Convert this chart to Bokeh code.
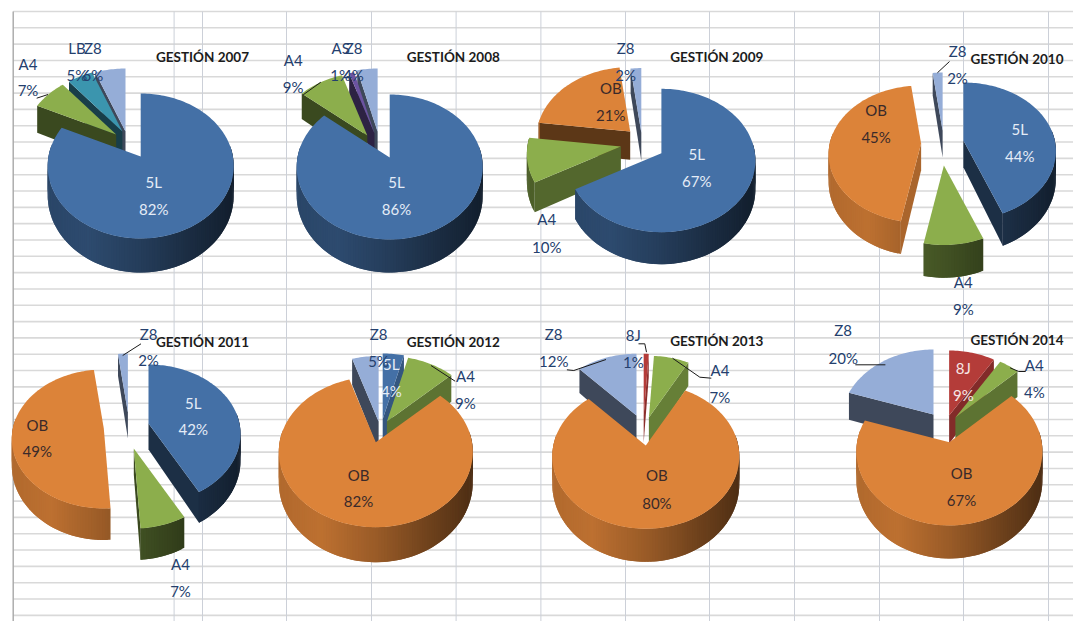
import math
from bokeh.plotting import figure
from bokeh.models import Range1d, ColumnDataSource
from bokeh.core.properties import value
from bokeh.embed import file_html
from bokeh.resources import INLINE

# ---- data ----
years = [2007, 2008, 2009, 2010, 2011, 2012, 2013, 2014]
names_2007 = ["5L", "A4", "LB", "Z8"]
values_2007 = [82, 7, 5, 6]
names_2008 = ["5L", "A4", "AS", "Z8"]
values_2008 = [86, 9, 1, 4]
names_2009 = ["5L", "A4", "OB", "Z8"]
values_2009 = [67, 10, 21, 2]
names_2010 = ["5L", "A4", "OB", "Z8"]
values_2010 = [44, 9, 45, 2]
names_2011 = ["5L", "A4", "OB", "Z8"]
values_2011 = [42, 7, 49, 2]
names_2012 = ["5L", "A4", "OB", "Z8"]
values_2012 = [4, 9, 82, 5]
names_2013 = ["8J", "A4", "OB", "Z8"]
values_2013 = [1, 7, 80, 12]
names_2014 = ["8J", "A4", "OB", "Z8"]
values_2014 = [9, 4, 67, 20]
all_names = dict(zip(years, [names_2007, names_2008, names_2009, names_2010, names_2011, names_2012, names_2013, names_2014]))
all_values = dict(zip(years, [values_2007, values_2008, values_2009, values_2010, values_2011, values_2012, values_2013, values_2014]))

# ---- styles ----
COL = {"5L": "#4470A6", "A4": "#8CAE4C", "OB": "#DC8339", "Z8": "#95ADD7",
       "LB": "#3B95AE", "AS": "#6C53A1", "8J": "#B43C39"}
SIDE = {"5L": 0.78, "A4": 0.68, "OB": 1.0, "Z8": 0.75, "LB": 0.7, "AS": 0.7, "8J": 0.7}
LBL = {"5L": "#E4ECF7", "8J": "#F6E6E6", "OB": "#3A2A2A"}
DARK_BLUE = "#24406E"

# ---- layout: half width, rise to back, drop to front, depth, slice apexes ----
GEOM = {
    2007: (93, 63, 82, 34, [(140.2, 156), (115.7, 134), (121.9, 131), (125, 131)]),
    2008: (93, 63, 82, 33, [(389.2, 157), (366.8, 135), (374, 133), (377.1, 131)]),
    2009: (94, 64.4, 79, 32, [(660.9, 152.7), (620.4, 146), (629.7, 131), (640.8, 132)]),
    2010: (92.5, 58, 79.5, 32.7, [(962.9, 140), (943.4, 165), (920.6, 143), (942.1, 130)]),
    2011: (92, 59, 80, 31.5, [(148, 423), (133.3, 448), (103.3, 428), (127.4, 412)]),
    2012: (97, 65.5, 85, 35, [(382.2, 418.5), (386.4, 421), (375.3, 441.7), (378.1, 421)]),
    2013: (93.5, 61.7, 83.3, 33, [(643.2, 415), (648.4, 417), (645.3, 445), (636, 415)]),
    2014: (93, 65, 83.3, 33, [(948.6, 415), (954.9, 417), (948.9, 441.7), (933, 414)]),
}
TITLE_POS = {2007: (202, 56.3), 2008: (452.8, 56.3), 2009: (716.3, 56.3), 2010: (1016.5, 58),
             2011: (202, 341.3), 2012: (452.8, 341.3), 2013: (716.3, 340.7), 2014: (1016.5, 339)}
LABEL_POS = {
    2007: [(153.2, 181.3, 208), (27.5, 63.7, 89.7), (76.4, 47, 74), (92.3, 47, 74)],
    2008: [(396, 181.3, 208), (292.7, 59.7, 86.3), (340.2, 47, 74), (353, 47, 74)],
    2009: [(696.2, 153.7, 180.7), (546.3, 218.7, 246.3), (610.3, 87.3, 114), (625.2, 47, 74)],
    2010: [(1019.3, 128, 155.3), (962.8, 281.3, 308), (875.6, 109.7, 136.3), (957, 50.3, 77.3)],
    2011: [(192.8, 402.3, 428.7), (180, 563.7, 590.7), (36.8, 424, 450.7), (148, 333, 359.7)],
    2012: [(390.8, 363.7, 390.7), (464.9, 375.7, 402.3), (358, 474, 500.7), (378, 333, 360.3)],
    2013: [(632.8, 334.7, 361.3), (719.4, 369.7, 396.3), (656.4, 474.7, 502.3), (553.2, 333, 360.3)],
    2014: [(962.8, 367.3, 394), (1033.8, 364, 391.3), (961, 472, 499.7), (842.7, 329.7, 357.3)],
}
LEADERS = [
    [(36.2, 97.7), (47.5, 94)], [(302.7, 94.3), (320.3, 81.7)], [(949, 61), (936.9, 72.3)],
    [(140.5, 343.3), (122.2, 355)], [(454.6, 380.7), (430.5, 365)],
    [(566.4, 369.3), (573.3, 370), (605.5, 359)], [(638, 343.3), (644.3, 343.3), (646, 351.7)],
    [(710.8, 377.7), (699.3, 376.7), (672, 357.7)], [(854.8, 364.3), (884.9, 364.3)],
    [(1025.2, 371), (1018.2, 371), (1009.6, 367.3)],
]
H_LINES = [11 + 16.32 * i for i in range(38)]
V_LINES = [173.6, 202, 286, 371, 455.6, 540.4, 625, 709, 794, 879, 963, 1048]


def shade(hex_col, f):
    r, g, b = (int(hex_col[i:i + 2], 16) for i in (1, 3, 5))
    return "#%02x%02x%02x" % (min(255, int(r * f)), min(255, int(g * f)), min(255, int(b * f)))


def side_factor(u):
    stops = [(-1, .80), (-.5, .86), (0, .70), (.5, .50), (1, .34)]
    for (a, fa), (b, fb) in zip(stops, stops[1:]):
        if u <= b:
            return fa + (fb - fa) * (u - a) / (b - a)
    return stops[-1][1]


xs, ys, fills = [], [], []


def add(px, py, c):
    xs.append(px)
    ys.append(py)
    fills.append(c)


def draw_year(year):
    half, rt, rb, depth, apexes = GEOM[year]
    ry = 2 / (1 / rt + 1 / rb)
    k = ry / rt - 1
    rx = half * math.sqrt(1 - k * k)

    def project(deg, ax, ay):
        t = math.radians(deg)
        u, v = math.sin(t), -math.cos(t)
        w = 1 - k * v
        d = depth * ((1 - k) / w) ** 1.2
        return ax + rx * u / w, ay + ry * v / w, d

    slices = []
    cum = 0.0
    total = sum(all_values[year])
    for name, val, (ax, ay) in zip(all_names[year], all_values[year], apexes):
        a0 = cum / total * 360
        cum += val
        a1 = cum / total * 360
        n = max(2, int((a1 - a0) / 1.5) + 1)
        angles = [a0 + (a1 - a0) * i / n for i in range(n + 1)]
        pts = [project(a, ax, ay) for a in angles]
        cy = (ay * 2 + sum(p[1] for p in pts) / len(pts)) / 3
        slices.append((cy, name, angles, pts, ax, ay, a0, a1))
    slices.sort(key=lambda s: s[0])

    for _, name, angles, pts, ax, ay, a0, a1 in slices:
        base = COL[name]
        a_d = depth * (1 - k) ** 1.2
        for deg, sign, p in ((a0, -1, pts[0]), (a1, 1, pts[-1])):
            nx = math.sin(math.radians(deg + sign * 90))
            nv = -math.cos(math.radians(deg + sign * 90))
            if nv < 0:
                continue
            f = 0.42 + 0.36 * max(0.0, nx)
            add([ax, p[0], p[0], ax], [ay, p[1], p[1] + p[2], ay + a_d], shade(base, f))
        last = len(pts) - 1
        for i in range(last):
            mid = math.radians((angles[i] + angles[i + 1]) / 2)
            if -math.cos(mid) < -0.15:
                continue
            (x0, y0, d0), (x1, y1, d1) = pts[i], pts[min(i + 2, last)]
            add([x0, x1, x1, x0], [y0, y1, y1 + d1, y0 + d0],
                shade(base, side_factor(math.sin(mid)) * SIDE[name]))
        add([ax] + [q[0] for q in pts], [ay] + [q[1] for q in pts], base)


for y in years:
    draw_year(y)

p = figure(width=1073, height=621, output_backend="svg", toolbar_location=None,
           x_range=Range1d(0, 1073), y_range=Range1d(621, 0), min_border=0)
p.axis.visible = False
p.grid.visible = False
p.outline_line_color = None
p.background_fill_color = "#FFFFFF"

p.segment(x0=[12.7] * len(H_LINES), x1=[1073] * len(H_LINES), y0=H_LINES, y1=H_LINES,
          line_color="#D9D9D9", line_width=1.6)
p.segment(x0=V_LINES, x1=V_LINES, y0=[11] * len(V_LINES), y1=[621] * len(V_LINES),
          line_color="#CCD0D8", line_width=1)
p.segment(x0=[12.7], x1=[12.7], y0=[11], y1=[621], line_color="#A8A8A8", line_width=1.4)

src = ColumnDataSource(dict(xs=xs, ys=ys, c=fills))
p.patches("xs", "ys", source=src, fill_color="c", line_color=None)

p.multi_line([[q[0] for q in l] for l in LEADERS], [[q[1] for q in l] for l in LEADERS],
             line_color="#1A1A1A", line_width=1)

tx, ty, tt, tc = [], [], [], []
for year in years:
    for name, val, (lx, y1, y2) in zip(all_names[year], all_values[year], LABEL_POS[year]):
        col = DARK_BLUE if (year, name) == (2013, "8J") else LBL.get(name, DARK_BLUE)
        tx += [lx, lx]
        ty += [y1, y2]
        tt += [name, f"{val}%"]
        tc += [col, col]
FONT = "Lato"
p.text(tx, ty, text=tt, text_color=tc, text_font=value(FONT), text_font_size="15px",
       text_align="center", text_baseline="middle")
p.text([TITLE_POS[y][0] for y in years], [TITLE_POS[y][1] for y in years],
       text=[f"GESTIÓN {y}" for y in years], text_color="#1C1C1C", text_font=value(FONT),
       text_font_size="13.5px", text_font_style="bold", text_align="center", text_baseline="middle")

open("out.html", "w").write(file_html(p, INLINE))
